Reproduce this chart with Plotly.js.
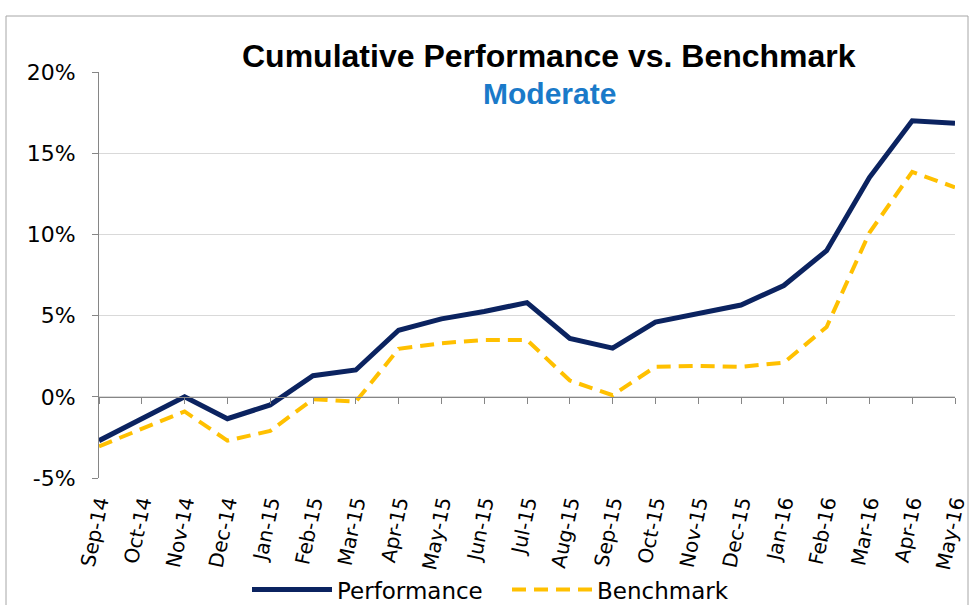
<!DOCTYPE html>
<html>
<head>
<meta charset="utf-8">
<script src="https://cdn.plot.ly/plotly-3.0.1.min.js"></script>
<style>
  html, body { margin: 0; padding: 0; background: #ffffff; }
  #chart { width: 971px; height: 605px; }
</style>
</head>
<body>
<div id="chart"></div>
<script>
// ---- Data ----
const months = ["Sep-14","Oct-14","Nov-14","Dec-14","Jan-15","Feb-15","Mar-15","Apr-15","May-15","Jun-15","Jul-15",
                "Aug-15","Sep-15","Oct-15","Nov-15","Dec-15","Jan-16","Feb-16","Mar-16","Apr-16","May-16"];
const performance = [-2.7, -1.35, 0.0, -1.35, -0.5, 1.3, 1.65, 4.1, 4.8, 5.25, 5.8,
                     3.6, 3.0, 4.6, 5.1, 5.65, 6.85, 9.0, 13.5, 17.0, 16.85];
const benchmark   = [-3.05, -2.0, -0.9, -2.7, -2.1, -0.15, -0.3, 2.95, 3.3, 3.5, 3.5,
                     1.0, 0.1, 1.85, 1.9, 1.85, 2.1, 4.3, 10.1, 13.85, 12.9];
const yTicks = [-5, 0, 5, 10, 15, 20];
const yTickLabels = ["-5%", "0%", "5%", "10%", "15%", "20%"];
const chartTitle = "Cumulative Performance vs. Benchmark";
const chartSubtitle = "Moderate";

const navy = "#0b2360";
const gold = "#ffc000";
const axisGray = "#868686";
const gridGray = "#d9d9d9";

const traces = [
  {
    x: months, y: performance, name: "Performance", type: "scatter", mode: "lines",
    line: { color: navy, width: 5 }, xaxis: "x", yaxis: "y"
  },
  {
    x: months, y: benchmark, name: "Benchmark", type: "scatter", mode: "lines",
    line: { color: gold, width: 4, dash: "14px,8px" }, xaxis: "x", yaxis: "y"
  },
  // invisible helper on the crossing axis so it knows the categories (draws tick marks at 0%)
  {
    x: months, y: performance, name: "", type: "scatter", mode: "lines",
    line: { color: "rgba(0,0,0,0)", width: 0 }, showlegend: false, hoverinfo: "skip",
    xaxis: "x2", yaxis: "y"
  }
];

const layout = {
  width: 971, height: 605,
  margin: { l: 99, r: 16, t: 72, b: 127, autoexpand: false },
  paper_bgcolor: "#ffffff", plot_bgcolor: "#ffffff",
  font: { family: "DejaVu Sans, Liberation Sans, Arial, sans-serif", color: "#000000" },
  showlegend: true,
  legend: {
    orientation: "h", x: (247 - 99) / 856, xanchor: "left", y: -0.275, yanchor: "middle",
    font: { family: "DejaVu Sans, Arial, sans-serif", size: 23, color: "#000000" },
    itemwidth: 80, entrywidth: 165, entrywidthmode: "pixels",
    traceorder: "normal", bgcolor: "rgba(0,0,0,0)"
  },
  xaxis: {
    type: "category", categoryorder: "array", categoryarray: months,
    range: [0, months.length - 1], automargin: false,
    showline: false, showgrid: false, zeroline: false, ticks: "",
    tickangle: -78, ticklabelstandoff: 8,
    tickfont: { family: "DejaVu Sans, Arial, sans-serif", size: 20, color: "#000000" },
    fixedrange: true
  },
  xaxis2: {
    type: "category", categoryorder: "array", categoryarray: months,
    range: [0, months.length - 1], automargin: false,
    overlaying: "x", anchor: "free", position: 0.2, side: "bottom",
    showline: true, linecolor: axisGray, linewidth: 1,
    ticks: "outside", ticklen: 6, tickcolor: axisGray, tickwidth: 1,
    showticklabels: false, showgrid: false, zeroline: false, fixedrange: true
  },
  yaxis: {
    range: [-5, 20], tickvals: yTicks, ticktext: yTickLabels, automargin: false,
    showline: true, linecolor: axisGray, linewidth: 1,
    ticks: "outside", ticklen: 6, tickcolor: axisGray,
    showgrid: true, gridcolor: gridGray, gridwidth: 1, zeroline: false,
    ticklabelstandoff: 12,
    tickfont: { family: "DejaVu Sans, Arial, sans-serif", size: 22, color: "#000000" },
    fixedrange: true
  },
  annotations: [
    {
      text: chartTitle, xref: "paper", yref: "paper", x: 0.526, y: 1.039,
      xanchor: "center", yanchor: "middle", showarrow: false,
      font: { family: "Liberation Sans, Arial, sans-serif", size: 32, color: "#000000", weight: "bold" }
    },
    {
      text: chartSubtitle, xref: "paper", yref: "paper", x: 0.526, y: 0.946,
      xanchor: "center", yanchor: "middle", showarrow: false,
      font: { family: "Liberation Sans, Arial, sans-serif", size: 30, color: "#1a7ac9", weight: "bold" }
    }
  ],
  shapes: [
    {
      type: "rect", xref: "paper", yref: "paper",
      x0: (6 - 99) / 856, x1: (968 - 99) / 856,
      y0: -0.5, y1: 1 + (72 - 16) / 406,
      line: { color: "#a6a6a6", width: 1 }, fillcolor: "rgba(0,0,0,0)", layer: "below"
    }
  ]
};

Plotly.newPlot("chart", traces, layout, { staticPlot: true, displayModeBar: false });
</script>
</body>
</html>
